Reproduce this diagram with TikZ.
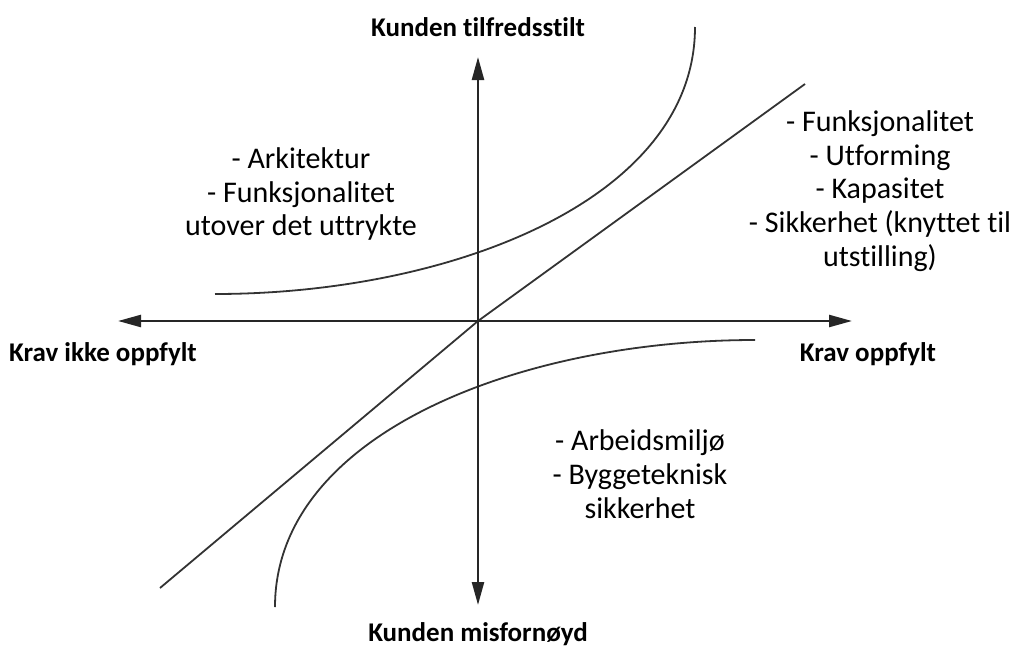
\documentclass[tikz,border=0pt]{standalone}
\usepackage{fontspec}
\setmainfont{Carlito}[Ligatures=CommonOff]
\usetikzlibrary{arrows.meta}
\begin{document}
\begin{tikzpicture}[x=1pt,y=-1pt,
  axis/.style={line width=2.4pt,draw=black!85,-{Triangle[length=23pt,width=12pt]}},
  curve/.style={line width=1.8pt,draw=black!80},
  label/.style={font=\bfseries\fontsize{27}{32}\selectfont,inner sep=0pt},
  items/.style={align=center,font=\fontsize{30}{33.7}\selectfont,inner sep=0pt}]
\useasboundingbox (0,0) rectangle (1013,648);

% axis ends and origin
\coordinate (o) at (478,321);
\coordinate (top) at (478,57);
\coordinate (bottom) at (478,605);
\coordinate (left) at (118,321);
\coordinate (right) at (852,321);

% diagonal: proportional satisfaction
\coordinate (dl) at (160,588);
\coordinate (dr) at (805,84);
\draw[curve] (dl) -- (o) -- (dr);

% attractive-quality curve (upper) and must-be curve (lower)
\draw[curve] (215,294) .. controls (450,294) and (695,200) .. (695,27);
\draw[curve] (755,340) .. controls (520,340) and (275,434) .. (275,607);

% axes
\draw[axis] (o) -- (top);
\draw[axis] (o) -- (bottom);
\draw[axis] (o) -- (left);
\draw[axis] (o) -- (right);

% axis labels
\node[label] (sat) at (478,27) {Kunden tilfredsstilt};
\node[label] (dis) at (478,634) {Kunden misfornøyd};
\node[label] (notmet) at (103,354) {Krav ikke oppfylt};
\node[label] (met) at (868,354) {Krav oppfylt};

% quadrant texts
\node[items] (attr) at (301,194) {- Arkitektur\\- Funksjonalitet\\utover det uttrykte};
\node[items] (perf) at (880,191) {- Funksjonalitet\\- Utforming\\- Kapasitet\\- Sikkerhet (knyttet til\\utstilling)};
\node[items] (must) at (640,474) {- Arbeidsmiljø\\- Byggeteknisk\\sikkerhet};
\end{tikzpicture}
\end{document}
